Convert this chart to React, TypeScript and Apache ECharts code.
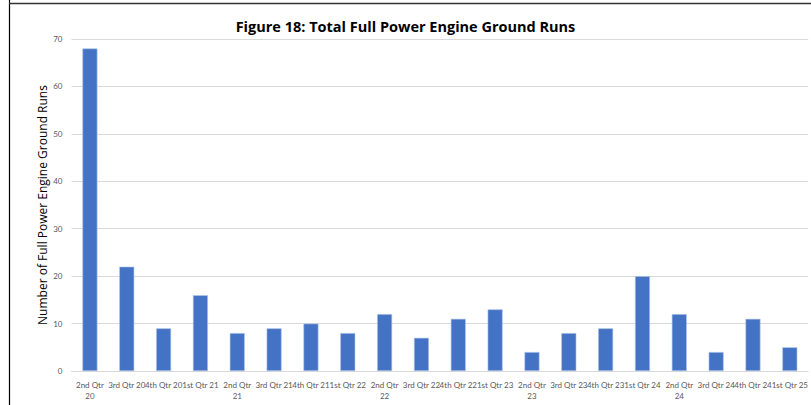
import React, { useEffect, useRef } from "react";
import * as echarts from "echarts";

const categories = [
  "2nd Qtr\n20", "3rd Qtr 20", "4th Qtr 20", "1st Qtr 21", "2nd Qtr\n21",
  "3rd Qtr 21", "4th Qtr 21", "1st Qtr 22", "2nd Qtr\n22", "3rd Qtr 22",
  "4th Qtr 22", "1st Qtr 23", "2nd Qtr\n23", "3rd Qtr 23", "4th Qtr 23",
  "1st Qtr 24", "2nd Qtr\n24", "3rd Qtr 24", "4th Qtr 24", "1st Qtr 25",
];
const runs = [68, 22, 9, 16, 8, 9, 10, 8, 12, 7, 11, 13, 4, 8, 9, 20, 12, 4, 11, 5];
const titleText = "Figure 18: Total Full Power Engine Ground Runs";
const yAxisTitle = "Number of Full Power Engine Ground Runs";

export default function App() {
  const ref = useRef<HTMLDivElement>(null);
  useEffect(() => {
    if (!ref.current) return;
    const chart = echarts.init(ref.current, null, { renderer: "svg" });
    chart.setOption({
      animation: false,
      backgroundColor: "#ffffff",
      title: {
        text: titleText,
        left: "center",
        top: 14,
        textStyle: { fontFamily: "Open Sans", fontWeight: "bold", fontSize: 14.5, color: "#000" },
      },
      grid: { left: 71.5, right: -0.5, top: 39, bottom: 34, containLabel: false },
      xAxis: {
        type: "category",
        data: categories,
        axisLine: { show: true, lineStyle: { color: "#d9d9d9", width: 1 } },
        axisTick: { show: false },
        axisLabel: {
          interval: 0,
          hideOverlap: false,
          margin: 8,
          fontFamily: "Lato",
          fontSize: 8,
          lineHeight: 11,
          color: "#595959",
        },
      },
      yAxis: {
        type: "value",
        min: 0,
        max: 70,
        interval: 10,
        name: yAxisTitle,
        nameLocation: "middle",
        nameGap: 23,
        nameMoveOverlap: false,
        nameTextStyle: { fontFamily: "Open Sans", fontSize: 12, color: "#000" },
        axisLine: { show: false },
        axisTick: { show: false },
        splitLine: { lineStyle: { color: "#d9d9d9", width: 1 } },
        axisLabel: { margin: 9, fontFamily: "Lato", fontSize: 8, color: "#595959" },
      },
      series: [
        {
          type: "bar",
          data: runs,
          barWidth: 15,
          itemStyle: { color: "#4472C4", borderColor: "#b4c7e7", borderWidth: 0.6 },
        },
      ],
      graphic: [
        { type: "line", shape: { x1: 9.5, y1: 0, x2: 9.5, y2: 405 }, style: { stroke: "#000", lineWidth: 1.2 } },
        { type: "line", shape: { x1: 9, y1: 3.5, x2: 811, y2: 3.5 }, style: { stroke: "#333", lineWidth: 1.5 } },
      ],
    });
    return () => chart.dispose();
  }, []);
  return (
    <div style={{ position: "fixed", left: 0, top: 0, width: 811, height: 405, background: "#fff" }}>
      <div ref={ref} style={{ width: 811, height: 405 }} />
    </div>
  );
}
